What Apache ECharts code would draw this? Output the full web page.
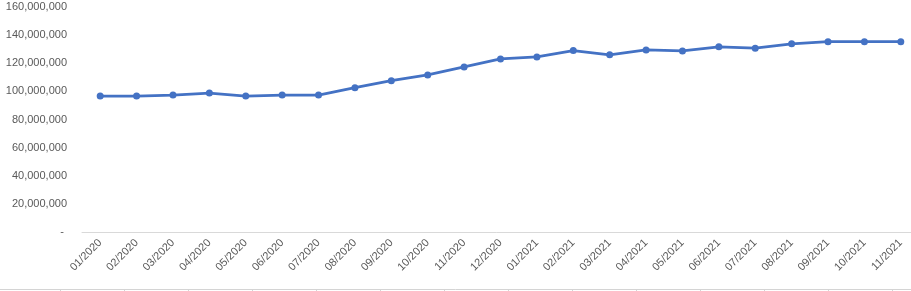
<!DOCTYPE html>
<html>
<head>
<meta charset="utf-8">
<script src="https://cdn.jsdelivr.net/npm/echarts@6/dist/echarts.min.js"></script>
<style>html,body{margin:0;padding:0;background:#fff;}#c{width:911px;height:291px;}</style>
</head>
<body>
<div id="c"></div>
<script>
const categories = ['01/2020','02/2020','03/2020','04/2020','05/2020','06/2020','07/2020','08/2020','09/2020','10/2020','11/2020','12/2020',
  '01/2021','02/2021','03/2021','04/2021','05/2021','06/2021','07/2021','08/2021','09/2021','10/2021','11/2021'];
const values = [96700000, 96700000, 97400000, 98800000, 96700000, 97400000, 97400000, 102600000, 107600000, 111700000, 117400000, 123100000,
  124500000, 129000000, 126000000, 129500000, 128800000, 131700000, 130700000, 133800000, 135300000, 135300000, 135300000];
const yTicks = { min: 0, max: 160000000, interval: 20000000 };

const chart = echarts.init(document.getElementById('c'), null, { renderer: 'canvas' });

const cellLines = [];
cellLines.push({ type: 'line', shape: { x1: 0, y1: 289.5, x2: 911, y2: 289.5 }, style: { stroke: '#D4D4D4', lineWidth: 1 }, silent: true });
for (let x = 60; x < 911; x += 64) {
  cellLines.push({ type: 'line', shape: { x1: x + 0.5, y1: 289, x2: x + 0.5, y2: 291 }, style: { stroke: '#D4D4D4', lineWidth: 1 }, silent: true });
}

chart.setOption({
  animation: false,
  backgroundColor: '#ffffff',
  textStyle: { fontFamily: 'Liberation Sans' },
  grid: { left: 82, top: 7, width: 837, bottom: 59, containLabel: false, outerBoundsMode: 'none' },
  xAxis: {
    type: 'category',
    data: categories,
    boundaryGap: true,
    axisLine: { show: true, lineStyle: { color: '#D9D9D9', width: 1 } },
    axisTick: { show: false },
    axisLabel: { rotate: 45, interval: 0, color: '#595959', fontSize: 11, margin: 9, fontFamily: 'Liberation Sans' },
    splitLine: { show: false }
  },
  yAxis: {
    type: 'value',
    min: yTicks.min, max: yTicks.max, interval: yTicks.interval,
    axisLine: { show: false },
    axisTick: { show: false },
    splitLine: { show: false },
    axisLabel: {
      color: '#595959', fontSize: 11, margin: 15, fontFamily: 'Liberation Sans',
      padding: [4, 0, 0, 0],
      formatter: v => v === 0 ? '- ' : v.toLocaleString('en-US')
    }
  },
  series: [{
    type: 'line',
    data: values,
    symbol: 'circle',
    symbolSize: 7,
    lineStyle: { color: '#4472C4', width: 2.75 },
    itemStyle: { color: '#4472C4' }
  }],
  graphic: cellLines
});
</script>
</body>
</html>
